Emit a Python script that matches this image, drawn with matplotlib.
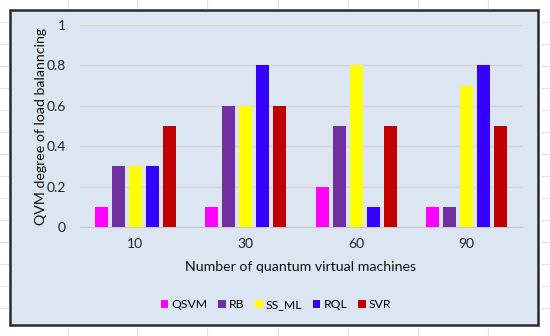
import matplotlib.pyplot as plt
from matplotlib.patches import Rectangle
from matplotlib.lines import Line2D
import numpy as np

plt.rcParams['font.family'] = ['Lato', 'DejaVu Sans']

# data
categories = ['10', '30', '60', '90']
series = ['QSVM', 'RB', 'SS_ML', 'RQL', 'SVR']
qsvm = [0.1, 0.1, 0.2, 0.1]
rb = [0.3, 0.6, 0.5, 0.1]
ss_ml = [0.3, 0.6, 0.8, 0.7]
rql = [0.3, 0.8, 0.1, 0.8]
svr = [0.5, 0.6, 0.5, 0.5]
values = [qsvm, rb, ss_ml, rql, svr]
colors = ['#FF00FF', '#7030A0', '#FFFF00', '#3300FF', '#C00000']

fig = plt.figure(figsize=(5.5, 3.36), dpi=100)
fig.patch.set_facecolor('white')

# faint spreadsheet gridlines behind the chart
W, H = 550, 336
for px in [68, 137, 207, 278, 348, 418, 488]:
    fig.add_artist(Line2D([px / W, px / W], [1, 1 - 8 / H], color='#e4e4e4', lw=0.8))
    fig.add_artist(Line2D([px / W, px / W], [0, 8 / H], color='#e4e4e4', lw=0.8))
for py in [22, 44, 66, 88, 110, 132, 154, 176, 198, 220, 242, 264, 286, 308]:
    fig.add_artist(Line2D([0, 8 / W], [1 - py / H, 1 - py / H], color='#e4e4e4', lw=0.8))
    fig.add_artist(Line2D([1 - 8 / W, 1], [1 - py / H, 1 - py / H], color='#e4e4e4', lw=0.8))

# chart area box
box = Rectangle((10 / W, 1 - 325 / H), 528 / W, 315 / H, transform=fig.transFigure,
                facecolor='#DCE6F2', edgecolor='#2b2b2b', lw=1.8, zorder=0)
fig.add_artist(box)

ax = fig.add_axes([80 / W, 1 - 227 / H, 442 / W, 202 / H])
ax.set_facecolor('none')

x = np.arange(len(categories))
step = 0.154
width = 0.118
for i, (name, vals, c) in enumerate(zip(series, values, colors)):
    ax.bar(x + (i - 2) * step, vals, width, color=c, label=name, zorder=3)

ax.set_xlim(-0.5, 3.5)
ax.set_ylim(0, 1)
ax.set_yticks([0, 0.2, 0.4, 0.6, 0.8, 1])
ax.set_yticklabels(['0', '0.2', '0.4', '0.6', '0.8', '1'])
ax.set_xticks(x)
ax.set_xticklabels(categories)
ax.yaxis.grid(True, color='#d9d3d3', lw=1)
ax.set_axisbelow(True)
for s in ['top', 'right', 'left']:
    ax.spines[s].set_visible(False)
ax.spines['bottom'].set_color('#c8c8c8')
ax.tick_params(length=0, labelsize=10, colors='#222222')
ax.tick_params(axis='x', pad=8)
ax.tick_params(axis='y', pad=10)

ax.set_xlabel('Number of quantum virtual machines', fontsize=10.2, color='#111111', labelpad=8)
ax.set_ylabel('QVM degree of load balanncing', fontsize=10.2, color='#111111', labelpad=0)

fig.legend(loc='center', bbox_to_anchor=(276 / W, 1 - 305 / H), ncol=5, frameon=False,
           fontsize=8.8, handlelength=0.6, handleheight=0.6, handletextpad=0.25,
           columnspacing=0.9)

fig.savefig('out.png', dpi=100)
